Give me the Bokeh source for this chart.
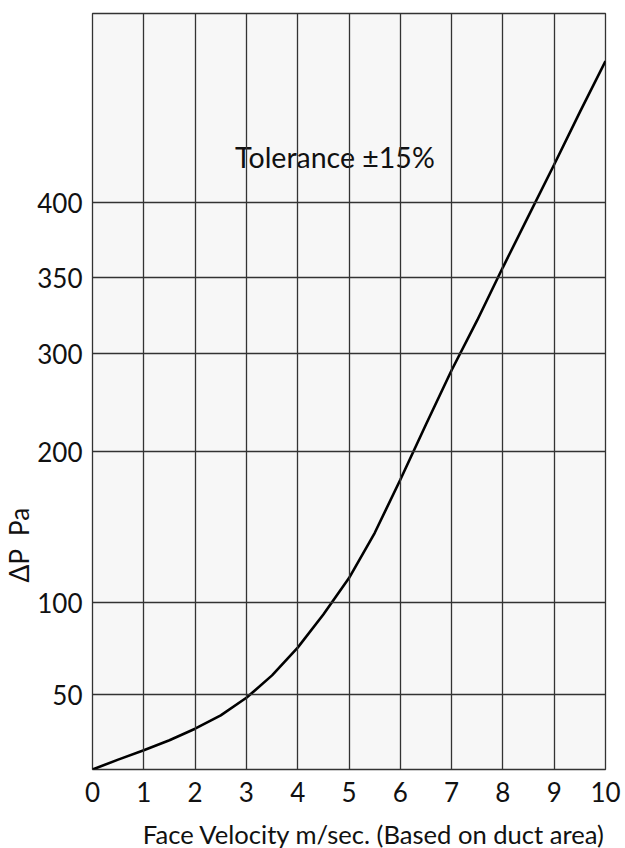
import numpy as np
from bokeh.plotting import figure
from bokeh.models import FixedTicker, Label, Range1d, Title
from bokeh.embed import file_html
from bokeh.resources import INLINE

# ---- data ----
velocity = [0, 0.5, 1, 1.5, 2, 2.5, 3, 3.5, 4, 4.5, 5, 5.5, 6, 6.5, 7, 7.5, 8, 8.5, 9, 9.5, 10]
pressure = [0, 6.6, 12.8, 19.5, 27.2, 36.1, 47.8, 60.4, 75.5, 93.5, 116.2, 146.0, 181.3,
            227.6, 282.9, 321.9, 356.8, 391.1, 420.1, 447.8, 474.8]
x_tick_values = [0, 1, 2, 3, 4, 5, 6, 7, 8, 9, 10]
y_tick_values = [50, 100, 200, 300, 350, 400]
x_label = "Face Velocity m/sec. (Based on duct area)"
y_label = "ΔP\u00a0 Pa"
note_text = "Tolerance ±15%"

# ---- the chart's own (non-uniform) pressure scale: Pa -> axis units ----
scale_pa = [0, 50, 100, 200, 300, 350, 400, 500]
scale_units = [0, 75, 167, 318, 416, 492, 567, 756]


def to_axis(pa):
    return np.interp(pa, scale_pa, scale_units)


FONT = "Lato"
GRID = "#333333"
TXT = "#111111"

p = figure(frame_width=513, frame_height=756, output_backend="svg", toolbar_location=None,
           x_range=Range1d(0, 10), y_range=Range1d(0, 756),
           min_border_left=92, min_border_top=13, min_border_right=18, min_border_bottom=79)
p.background_fill_color = "#f7f7f7"
p.border_fill_color = "white"
p.outline_line_color = GRID
p.outline_line_width = 1.3

y_tick_pos = [int(round(float(v))) for v in to_axis(y_tick_values)]

p.xaxis.ticker = FixedTicker(ticks=x_tick_values)
p.yaxis.ticker = FixedTicker(ticks=y_tick_pos)
p.yaxis.major_label_overrides = {pos: str(v) for pos, v in zip(y_tick_pos, y_tick_values)}
p.xgrid.ticker = FixedTicker(ticks=x_tick_values)
p.ygrid.ticker = FixedTicker(ticks=y_tick_pos)
for g in (p.xgrid, p.ygrid):
    g.grid_line_color = GRID
    g.grid_line_width = 1.3
    g.level = "overlay"

for ax in (p.xaxis, p.yaxis):
    ax.axis_line_color = None
    ax.major_tick_line_color = None
    ax.minor_tick_line_color = None
    ax.major_tick_out = 0
    ax.major_tick_in = 0
    ax.minor_tick_out = 0
    ax.major_label_text_font = FONT
    ax.major_label_text_font_size = "26px"
    ax.major_label_text_color = TXT
p.xaxis.major_label_standoff = 12
p.yaxis.major_label_standoff = 10
p.yaxis.axis_label_standoff = 0

p.line(velocity, to_axis(pressure), line_color="black", line_width=2.6)

p.add_layout(Label(x=2.78, y=613, text=note_text, text_font=FONT,
                   text_font_size="28.5px", text_color=TXT, text_align="left",
                   text_baseline="alphabetic", level="glyph"))

p.add_layout(Title(text=y_label, align="left", offset=187, standoff=0,
                   text_font=FONT, text_font_size="26.3px", text_font_style="normal",
                   text_color=TXT), "left")
p.add_layout(Title(text=x_label, align="right", offset=0, standoff=24,
                   text_font=FONT, text_font_size="25.6px", text_font_style="normal",
                   text_color=TXT), "below")

open("out.html", "w").write(file_html(p, INLINE))
